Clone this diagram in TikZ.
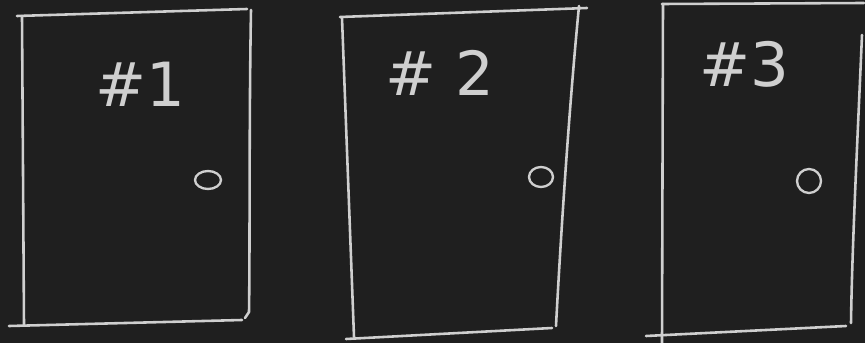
\documentclass[tikz,border=0pt]{standalone}
\usepackage{fontspec}
\setmainfont{DejaVu Sans}
\definecolor{board}{HTML}{1F1F1F}
\definecolor{chalk}{HTML}{CFCFCF}
\tikzset{
  chalk/.style={draw=chalk, line width=2.2pt, line cap=round, line join=round},
  knob/.style={draw=chalk, line width=2pt},
  doornum/.style={text=chalk, font=\fontsize{52}{52}\selectfont}
}
\begin{document}
\begin{tikzpicture}[x=0.03cm,y=-0.03cm]
\fill[board] (0,0) rectangle (865,343);
\useasboundingbox (0,0) rectangle (865,343);

% door 1
\draw[chalk] (22,16) -- (24,325);
\draw[chalk] (17,16) -- (247,9);
\draw[chalk] (251,10) .. controls (249,120) and (250,250) .. (249,312) -- (245,318);
\draw[chalk] (9,326) -- (242,320);
\draw[knob] (208,180) ellipse (13 and 9);
\node[doornum] (num1) at (140,84) {\#1};

% door 2
\draw[chalk] (342,18) -- (354,337);
\draw[chalk] (340,17) -- (587,8);
\draw[chalk] (579,6) .. controls (568,120) and (560,250) .. (556,326);
\draw[chalk] (346,339) -- (552,328);
\draw[knob] (541,177) ellipse (12 and 10);
\node[doornum] (num2) at (440,73) {\#~2};

% door 3
\draw[chalk] (663,4) -- (662,343);
\draw[chalk] (662,4) -- (864,3);
\draw[chalk] (862,35) .. controls (857,150) and (852,250) .. (851,323);
\draw[chalk] (646,336) -- (846,326);
\draw[knob] (809,181) ellipse (12 and 12);
\node[doornum] (num3) at (744,64) {\#3};
\end{tikzpicture}
\end{document}
